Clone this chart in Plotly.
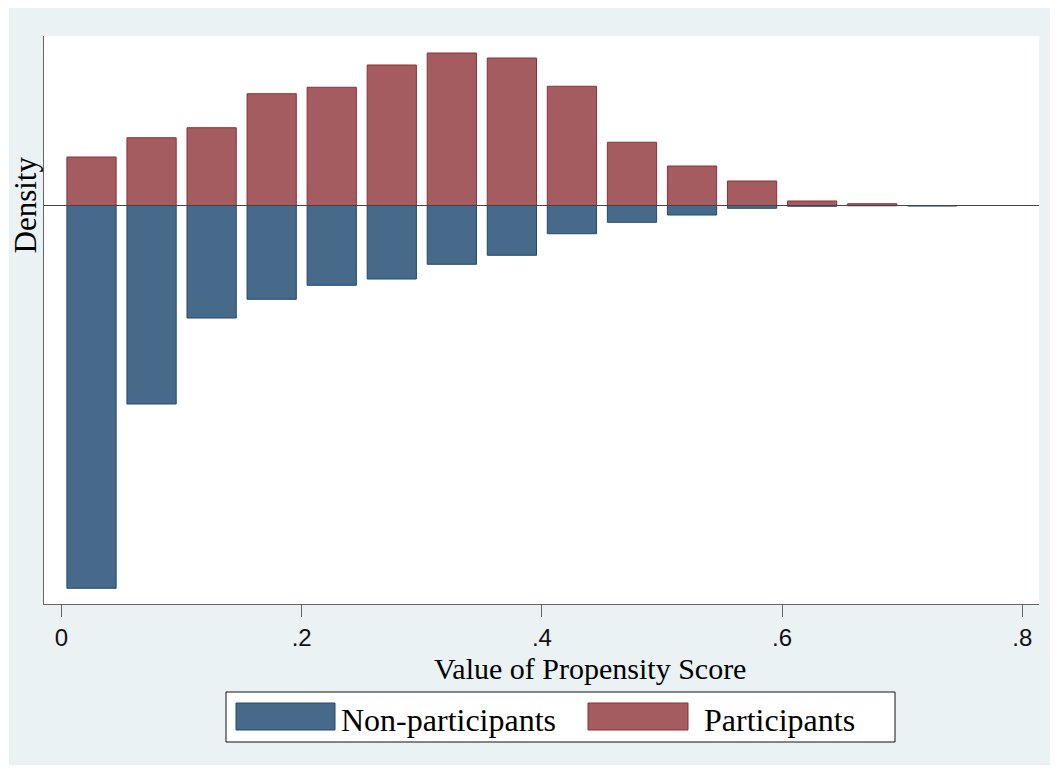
import plotly.graph_objects as go

# ---- data ----
bin_centers = [0.025, 0.075, 0.125, 0.175, 0.225, 0.275, 0.325, 0.375,
               0.425, 0.475, 0.525, 0.575, 0.625, 0.675, 0.725]
participants = [0.873, 1.220, 1.400, 2.012, 2.128, 2.529, 2.745, 2.655,
                2.146, 1.138, 0.711, 0.441, 0.081, 0.032, 0.0]
non_participants = [6.890, 3.573, 2.025, 1.688, 1.436, 1.323, 1.058, 0.896,
                    0.508, 0.302, 0.171, 0.050, 0.014, 0.005, 0.010]
tick_vals = [0, 0.2, 0.4, 0.6, 0.8]
tick_text = ["0", ".2", ".4", ".6", ".8"]
series_names = ["Non-participants", "Participants"]

BLUE = "#476a8b"
BLUE_LINE = "#1f4a6f"
RED = "#a55c60"
RED_LINE = "#8e2f38"
PANEL = "#eaf2f3"
SERIF = "Liberation Serif, Times New Roman, serif"
SANS = "Liberation Sans, Arial, sans-serif"

# page has an 8px body margin; figure fills the rest of the window
OFF = 8
W, H = 1058 - OFF, 774 - OFF
L, R, T, B = 44 - OFF, 19, 36 - OFF, 170
PW, PH = W - L - R, H - T - B


def xp(px):
    # px given in window coordinates
    return (px - OFF - L) / PW


def yp(py):
    return (H - B - (py - OFF)) / PH


fig = go.Figure()
fig.add_trace(go.Bar(
    x=bin_centers, y=[-v for v in non_participants], width=0.041,
    name=series_names[0],
    marker=dict(color=BLUE, line=dict(color=BLUE_LINE, width=1)),
    showlegend=False,
))
fig.add_trace(go.Bar(
    x=bin_centers, y=participants, width=0.041,
    name=series_names[1],
    marker=dict(color=RED, line=dict(color=RED_LINE, width=1)),
    showlegend=False,
))

shapes = [
    # white outer strips around the panel
    dict(type="rect", xref="paper", yref="paper", x0=xp(0), x1=xp(9),
         y0=yp(0), y1=yp(774), fillcolor="white", line=dict(width=0), layer="below"),
    dict(type="rect", xref="paper", yref="paper", x0=xp(1056), x1=xp(1060),
         y0=yp(0), y1=yp(774), fillcolor="white", line=dict(width=0), layer="below"),
    dict(type="rect", xref="paper", yref="paper", x0=xp(0), x1=xp(1060),
         y0=yp(765), y1=yp(780), fillcolor="white", line=dict(width=0), layer="below"),
    # zero line
    dict(type="line", xref="paper", yref="y", x0=0, x1=1, y0=0, y1=0,
         line=dict(color="#444444", width=1), layer="above"),
    # legend box
    dict(type="rect", xref="paper", yref="paper", x0=xp(226), x1=xp(895),
         y0=yp(692), y1=yp(742), fillcolor="white",
         line=dict(color="#111111", width=1), layer="above"),
    dict(type="rect", xref="paper", yref="paper", x0=xp(236), x1=xp(335),
         y0=yp(703), y1=yp(730), fillcolor=BLUE,
         line=dict(color=BLUE_LINE, width=1), layer="above"),
    dict(type="rect", xref="paper", yref="paper", x0=xp(588), x1=xp(688),
         y0=yp(703), y1=yp(730), fillcolor=RED,
         line=dict(color=RED_LINE, width=1), layer="above"),
]

annotations = [
    dict(text="Value of Propensity Score", xref="paper", yref="paper",
         x=xp(590), y=yp(668), xanchor="center", yanchor="middle",
         showarrow=False, font=dict(family=SERIF, size=30, color="black")),
    dict(text="Density", xref="paper", yref="y", x=xp(25), y=0,
         xanchor="center", yanchor="middle", textangle=-90,
         showarrow=False, font=dict(family=SERIF, size=31, color="black")),
    dict(text=series_names[0], xref="paper", yref="paper",
         x=xp(339), y=yp(720), xanchor="left", yanchor="middle",
         showarrow=False, font=dict(family=SERIF, size=32, color="black")),
    dict(text=series_names[1], xref="paper", yref="paper",
         x=xp(702), y=yp(720), xanchor="left", yanchor="middle",
         showarrow=False, font=dict(family=SERIF, size=32, color="black")),
]

fig.update_layout(
    width=W, height=H,
    margin=dict(l=L, r=R, t=T, b=B, pad=0),
    paper_bgcolor=PANEL, plot_bgcolor="white",
    barmode="overlay",
    shapes=shapes, annotations=annotations,
    showlegend=False,
    xaxis=dict(range=[-0.01457, 0.8139], tickvals=tick_vals, ticktext=tick_text,
               showline=True, linecolor="#666666", linewidth=1,
               ticks="outside", ticklen=12, tickcolor="#666666", tickwidth=1,
               tickfont=dict(family=SANS, size=24, color="#111111"),
               showgrid=False, zeroline=False, fixedrange=True),
    yaxis=dict(range=[-7.173, 3.051], showline=True, linecolor="#666666",
               linewidth=1, showticklabels=False, ticks="",
               showgrid=False, zeroline=False, fixedrange=True),
)

fig.write_html("out.html")
